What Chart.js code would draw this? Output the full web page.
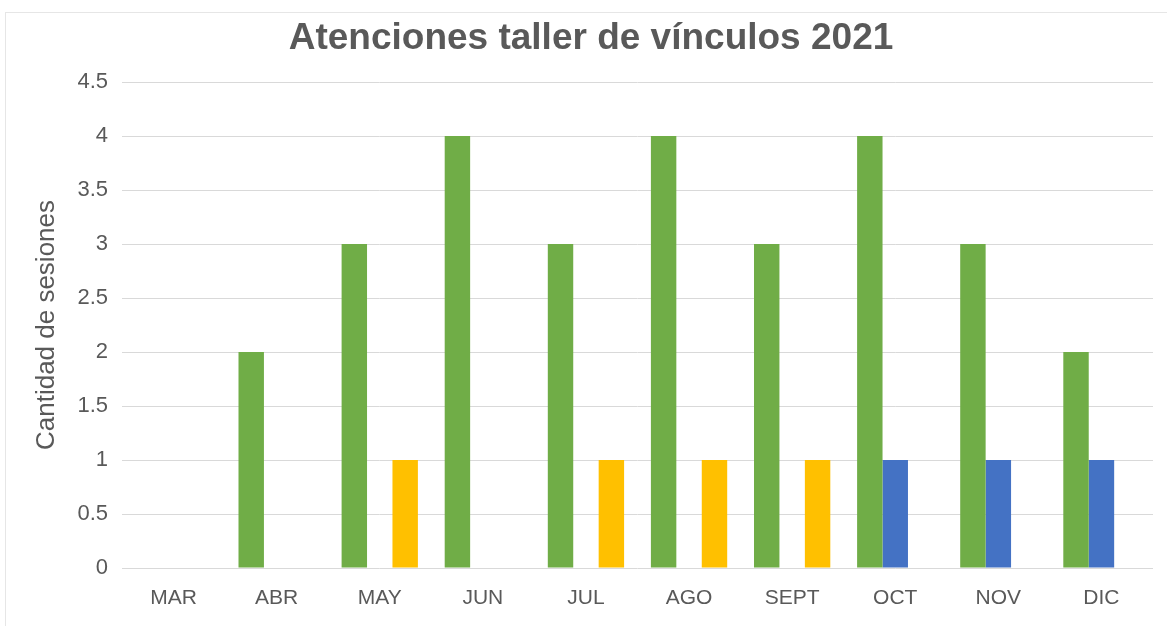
<!DOCTYPE html>
<html>
<head>
<meta charset="utf-8">
<script src="https://cdn.jsdelivr.net/npm/chart.js@4"></script>
<style>
  html, body { margin: 0; padding: 0; background: #fff; }
  #wrap { position: relative; width: 1167px; height: 626px; }
  #frame {
    position: absolute; left: 5px; top: 12px; right: -2px; bottom: -2px;
    border-left: 1px solid #e6e6e6; border-top: 1px solid #e6e6e6;
  }
</style>
</head>
<body>
<div id="wrap">
  <div id="frame"></div>
  <canvas id="chart" width="1167" height="626"></canvas>
</div>
<script>
const months = ["MAR", "ABR", "MAY", "JUN", "JUL", "AGO", "SEPT", "OCT", "NOV", "DIC"];
const greenSeries = [0, 2, 3, 4, 3, 4, 3, 4, 3, 2];
const blueSeries = [0, 0, 0, 0, 0, 0, 0, 1, 1, 1];
const yellowSeries = [0, 0, 1, 0, 1, 1, 1, 0, 0, 0];
const yTicks = [0, 0.5, 1, 1.5, 2, 2.5, 3, 3.5, 4, 4.5];

const canvas = document.getElementById("chart");
const font = "'Liberation Sans', Arial, sans-serif";

new Chart(canvas.getContext("2d"), {
  type: "bar",
  data: {
    labels: months,
    datasets: [
      { label: "Serie 1", data: greenSeries, backgroundColor: "#70AD47" },
      { label: "Serie 2", data: blueSeries, backgroundColor: "#4472C4" },
      { label: "Serie 3", data: yellowSeries, backgroundColor: "#FFC000" },
    ],
  },
  options: {
    responsive: false,
    animation: false,
    layout: { padding: { left: 29, right: 14, top: 0, bottom: 18 } },
    datasets: {
      bar: { categoryPercentage: 0.74, barPercentage: 1.0, borderWidth: 0 },
    },
    plugins: {
      legend: { display: false },
      tooltip: { enabled: false },
      title: {
        display: true,
        text: "Atenciones taller de vínculos 2021",
        color: "#595959",
        font: { family: font, size: 37, weight: "bold" },
        padding: { top: 17, bottom: 20.6 },
      },
    },
    scales: {
      x: {
        afterFit: (scale) => {
          scale.height = 40;
        },
        grid: { display: false, drawTicks: false },
        border: { display: false },
        ticks: {
          color: "#595959",
          padding: 18,
          font: { family: font, size: 21 },
        },
      },
      y: {
        min: 0,
        max: 4.5,
        afterBuildTicks: (scale) => {
          scale.ticks = yTicks.map((v) => ({ value: v }));
        },
        afterFit: (scale) => {
          scale.width = 93;
        },
        grid: { color: "#d9d9d9", lineWidth: 1, drawTicks: false },
        border: { display: false },
        ticks: {
          color: "#595959",
          padding: 14,
          font: { family: font, size: 22 },
          callback: (value) => String(value),
        },
        title: {
          display: true,
          text: "Cantidad de sesiones",
          color: "#595959",
          padding: { top: 2, bottom: 0 },
          font: { family: font, size: 26 },
        },
      },
    },
  },
});
</script>
</body>
</html>
